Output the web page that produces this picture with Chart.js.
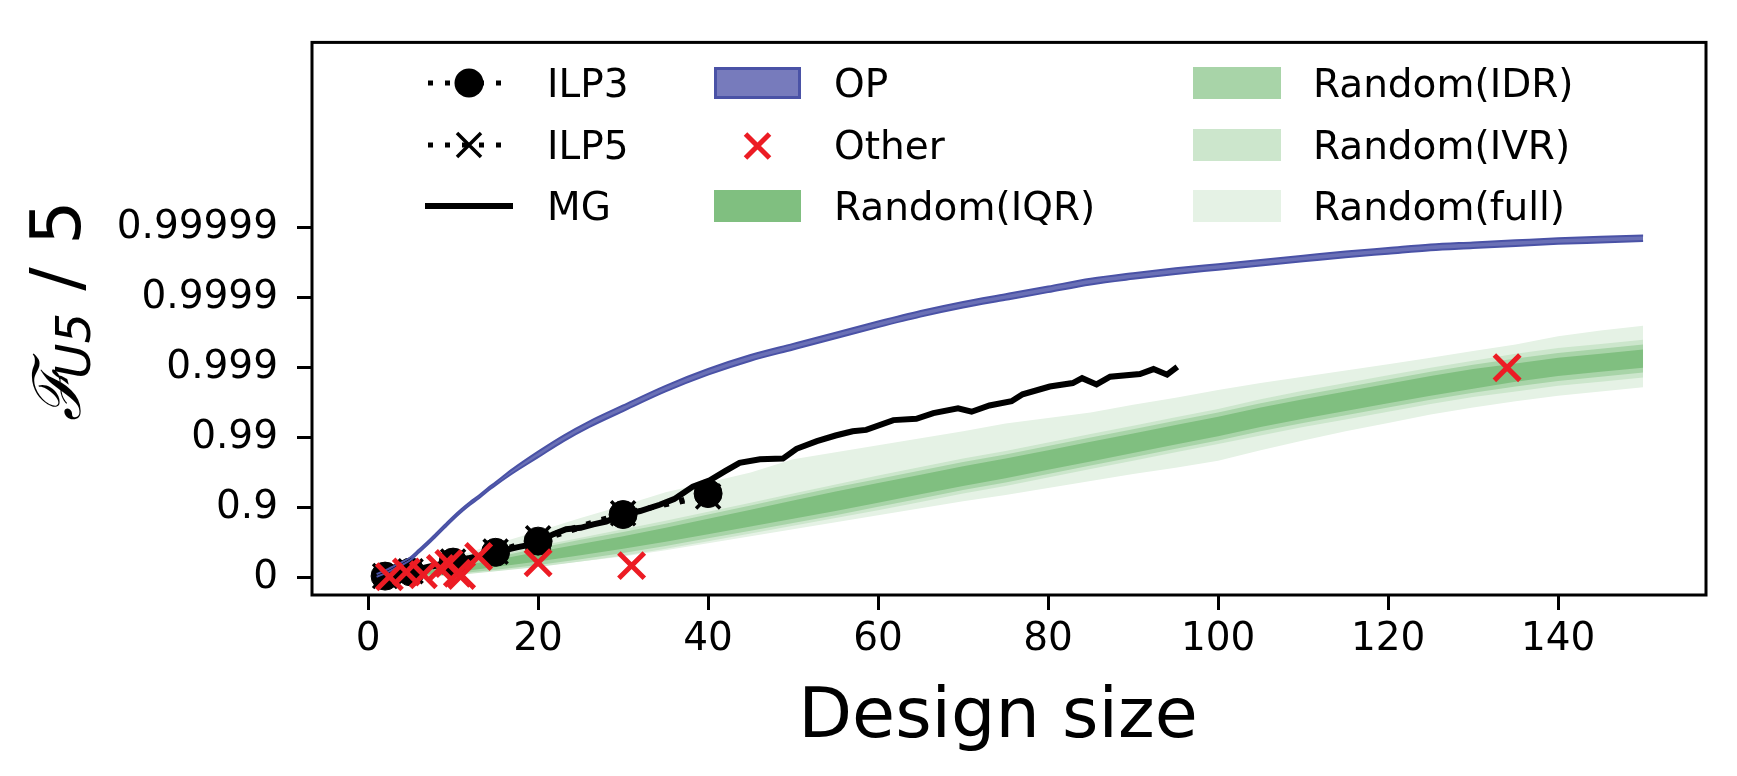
<!DOCTYPE html>
<html>
<head>
<meta charset="utf-8">
<script src="https://cdn.jsdelivr.net/npm/chart.js@4.4.1/dist/chart.umd.min.js"></script>
<style>
  html, body { margin: 0; padding: 0; background: #fff; }
</style>
</head>
<body>
<canvas id="chart" width="1737" height="776"></canvas>
<script>
// y values are in "nines": 0 -> 0, 1 -> 0.9, 2 -> 0.99, ...
const xTicks = [0, 20, 40, 60, 80, 100, 120, 140];
const yTicks = [0, 1, 2, 3, 4, 5];
const yTickLabels = ["0", "0.9", "0.99", "0.999", "0.9999", "0.99999"];

const ilpX = [2, 5, 10, 15, 20, 30, 40];
const ilp3Y = [0.02, 0.08, 0.22, 0.36, 0.52, 0.90, 1.20];
const ilp5Y = [0.02, 0.09, 0.23, 0.37, 0.56, 0.92, 1.16];

const mgX = [1, 3, 5, 7, 9, 11, 13, 15, 17.5, 19.5, 21.8, 23.3, 25, 26.5, 28, 30, 32, 34.3, 36, 37, 38.2,
  40.2, 42, 43.7, 46.1, 48.8, 50.4, 52.8, 55, 57, 58.6, 61.8, 64.5, 66.5, 69.4, 71, 73.1, 75.7,
  77, 80.2, 82.9, 84, 85.7, 87.3, 90.8, 92.4, 94, 95.2];
const mgY = [0.0, 0.05, 0.09, 0.15, 0.2, 0.25, 0.31, 0.36, 0.43, 0.48, 0.62, 0.69, 0.71, 0.76, 0.8, 0.9, 0.95, 1.04, 1.12, 1.2, 1.3,
  1.39, 1.52, 1.64, 1.69, 1.70, 1.84, 1.95, 2.03, 2.09, 2.11, 2.25, 2.27, 2.35, 2.42, 2.37, 2.46, 2.52,
  2.62, 2.73, 2.78, 2.85, 2.76, 2.87, 2.91, 2.98, 2.90, 3.01];

const opX = [1, 2, 3, 4, 5, 6, 7, 8, 9, 10, 11, 12, 13, 14, 15, 17, 20, 23, 26, 30, 35, 40, 45, 50, 55, 60,
  65, 70, 75, 80, 85, 90, 95, 100, 105, 110, 115, 120, 125, 130, 135, 140, 145, 150];
const opHi = [0.05, 0.10, 0.16, 0.22, 0.29, 0.40, 0.51, 0.63, 0.75, 0.87, 0.98, 1.08, 1.17, 1.27, 1.36, 1.55, 1.80,
  2.03, 2.23, 2.46, 2.74, 2.98, 3.18, 3.34, 3.50, 3.66, 3.81, 3.94, 4.05, 4.16, 4.27, 4.35, 4.42, 4.48,
  4.54, 4.60, 4.66, 4.71, 4.76, 4.79, 4.82, 4.85, 4.87, 4.89];
const opLo = [0.01, 0.06, 0.12, 0.18, 0.25, 0.36, 0.47, 0.59, 0.71, 0.83, 0.94, 1.04, 1.13, 1.23, 1.32, 1.49, 1.72,
  1.95, 2.15, 2.38, 2.66, 2.90, 3.10, 3.26, 3.42, 3.58, 3.73, 3.86, 3.97, 4.08, 4.19, 4.27, 4.34, 4.40,
  4.46, 4.52, 4.58, 4.63, 4.68, 4.71, 4.74, 4.77, 4.79, 4.81];

const otherX = [2.5, 4.5, 6.5, 8.5, 9.5, 10.5, 11, 13, 20, 31, 134];
const otherY = [0.01, 0.08, 0.04, 0.13, 0.2, 0.06, 0.03, 0.3, 0.21, 0.17, 3.0];

const randX = [1, 5, 10, 15, 20, 25, 30, 35, 40, 45, 50, 55, 60, 65, 70, 75, 80, 85, 90, 95, 100,
  105, 110, 115, 120, 125, 130, 135, 140, 145, 150];
const iqrHi = [0.00, 0.06, 0.15, 0.25, 0.37, 0.48, 0.59, 0.71, 0.84, 0.97, 1.10, 1.23, 1.35, 1.47, 1.59, 1.70,
  1.82, 1.94, 2.06, 2.18, 2.30, 2.43, 2.55, 2.66, 2.77, 2.88, 2.98, 3.06, 3.14, 3.20, 3.26];
const iqrLo = [0.00, 0.02, 0.07, 0.15, 0.23, 0.32, 0.41, 0.51, 0.62, 0.73, 0.84, 0.95, 1.07, 1.19, 1.31, 1.42,
  1.54, 1.66, 1.78, 1.90, 2.02, 2.15, 2.27, 2.38, 2.49, 2.60, 2.70, 2.80, 2.88, 2.94, 3.00];
const idrHi = [0.00, 0.07, 0.17, 0.29, 0.42, 0.54, 0.65, 0.77, 0.90, 1.03, 1.16, 1.29, 1.41, 1.53, 1.65, 1.76,
  1.88, 2.00, 2.12, 2.24, 2.36, 2.49, 2.61, 2.72, 2.83, 2.94, 3.04, 3.13, 3.21, 3.27, 3.33];
const idrLo = [0.00, 0.01, 0.05, 0.11, 0.18, 0.26, 0.35, 0.45, 0.56, 0.67, 0.78, 0.89, 1.01, 1.13, 1.25, 1.36,
  1.48, 1.60, 1.72, 1.84, 1.96, 2.09, 2.21, 2.32, 2.43, 2.54, 2.64, 2.73, 2.81, 2.87, 2.93];
const ivrHi = [0.00, 0.08, 0.19, 0.31, 0.45, 0.57, 0.69, 0.81, 0.94, 1.07, 1.20, 1.33, 1.46, 1.58, 1.70, 1.81,
  1.93, 2.05, 2.17, 2.29, 2.41, 2.55, 2.67, 2.78, 2.89, 3.00, 3.10, 3.20, 3.28, 3.34, 3.40];
const ivrLo = [0.00, 0.00, 0.03, 0.09, 0.15, 0.23, 0.31, 0.41, 0.52, 0.63, 0.74, 0.85, 0.96, 1.08, 1.20, 1.31,
  1.43, 1.55, 1.67, 1.79, 1.91, 2.03, 2.15, 2.26, 2.37, 2.48, 2.58, 2.66, 2.74, 2.80, 2.86];
const fullHi = [0.00, 0.12, 0.29, 0.48, 0.66, 0.85, 1.03, 1.22, 1.36, 1.50, 1.69, 1.79, 1.89, 1.99, 2.09, 2.20,
  2.28, 2.36, 2.47, 2.57, 2.68, 2.78, 2.87, 2.96, 3.05, 3.14, 3.24, 3.33, 3.45, 3.53, 3.60];
const fullLo = [0.00, 0.00, 0.04, 0.10, 0.16, 0.23, 0.30, 0.39, 0.49, 0.59, 0.69, 0.79, 0.89, 0.99, 1.09, 1.18,
  1.28, 1.38, 1.48, 1.57, 1.67, 1.82, 1.96, 2.09, 2.21, 2.33, 2.43, 2.52, 2.60, 2.66, 2.72];

const FONT = "'DejaVu Sans', sans-serif";
const RED = "#ec1c24";
const OP_FILL = "#6a70b6";
const OP_EDGE = "#4a52a6";
const GREEN = { iqr: "#80bf80", idr: "#a8d4a8", ivr: "#cce6cc", full: "#e5f2e5" };

function pts(xs, ys) {
  return xs.map((x, i) => ({ x: x, y: ys[i] }));
}

function band(label, xs, hi, lo, color, order) {
  return [
    { label: label, data: pts(xs, hi), order: order, fill: "+1", backgroundColor: color,
      borderWidth: 0, pointRadius: 0 },
    { label: label + "_lo", data: pts(xs, lo), order: order, fill: false,
      borderWidth: 0, pointRadius: 0 },
  ];
}

const datasets = [
  { label: "Other", data: pts(otherX, otherY), order: 0, showLine: false,
    pointStyle: "crossRot", pointRadius: 18, pointBorderWidth: 5, pointBorderColor: RED, pointBackgroundColor: RED },
  { label: "OP", data: pts(opX, opHi), order: 1, fill: "+1", backgroundColor: OP_FILL,
    borderColor: OP_EDGE, borderWidth: 2, pointRadius: 0, cubicInterpolationMode: "monotone" },
  { label: "OP_lo", data: pts(opX, opLo), order: 1, fill: false,
    borderColor: OP_EDGE, borderWidth: 2, pointRadius: 0, cubicInterpolationMode: "monotone" },
  { label: "ILP3", data: pts(ilpX, ilp3Y), order: 2, borderColor: "#000", borderWidth: 5, borderDash: [5, 11],
    pointStyle: "circle", pointRadius: 14, pointBackgroundColor: "#000", pointBorderColor: "#000", pointBorderWidth: 1 },
  { label: "ILP5", data: pts(ilpX, ilp5Y), order: 3, borderColor: "#000", borderWidth: 5, borderDash: [5, 11],
    pointStyle: "crossRot", pointRadius: 17, pointBorderColor: "#000", pointBorderWidth: 3.5 },
  { label: "MG", data: pts(mgX, mgY), order: 4, borderColor: "#000", borderWidth: 6, pointRadius: 0 },
  ...band("Random(IQR)", randX, iqrHi, iqrLo, GREEN.iqr, 5),
  ...band("Random(IDR)", randX, idrHi, idrLo, GREEN.idr, 6),
  ...band("Random(IVR)", randX, ivrHi, ivrLo, GREEN.ivr, 7),
  ...band("Random(full)", randX, fullHi, fullLo, GREEN.full, 8),
];

// legend laid out as in the figure: three columns, filled column by column
const legendRows = [83, 145, 206];
const legendCols = [
  { x1: 425, x2: 513, text: 547 },
  { x1: 714, x2: 801, text: 834 },
  { x1: 1193, x2: 1281, text: 1313 },
];
const legendItems = [
  { label: "ILP3", kind: "ilp3" }, { label: "ILP5", kind: "ilp5" }, { label: "MG", kind: "line" },
  { label: "OP", kind: "patch", fill: "#777bbc", edge: OP_EDGE },
  { label: "Other", kind: "cross" },
  { label: "Random(IQR)", kind: "patch", fill: GREEN.iqr },
  { label: "Random(IDR)", kind: "patch", fill: GREEN.idr },
  { label: "Random(IVR)", kind: "patch", fill: GREEN.ivr },
  { label: "Random(full)", kind: "patch", fill: GREEN.full },
];

function drawX(ctx, x, y, r, w, color) {
  ctx.save();
  ctx.strokeStyle = color;
  ctx.lineWidth = w;
  ctx.beginPath();
  ctx.moveTo(x - r, y - r); ctx.lineTo(x + r, y + r);
  ctx.moveTo(x + r, y - r); ctx.lineTo(x - r, y + r);
  ctx.stroke();
  ctx.restore();
}

const decorPlugin = {
  id: "decor",
  afterDraw(chart) {
    const ctx = chart.ctx;
    const a = chart.chartArea;

    // axes frame
    ctx.save();
    ctx.strokeStyle = "#000";
    ctx.lineWidth = 3;
    ctx.strokeRect(a.left, a.top, a.right - a.left, a.bottom - a.top);
    ctx.restore();

    // legend
    ctx.save();
    legendItems.forEach((item, i) => {
      const col = legendCols[Math.floor(i / 3)];
      const y = legendRows[i % 3];
      const cx = (col.x1 + col.x2) / 2;
      if (item.kind === "ilp3" || item.kind === "ilp5") {
        ctx.save();
        ctx.strokeStyle = "#000";
        ctx.lineWidth = 5;
        ctx.setLineDash([5, 12]);
        ctx.beginPath();
        ctx.moveTo(col.x1 + 3, y);
        ctx.lineTo(col.x2 - 2, y);
        ctx.stroke();
        ctx.restore();
        if (item.kind === "ilp3") {
          ctx.fillStyle = "#000";
          ctx.beginPath();
          ctx.arc(cx, y, 14.5, 0, Math.PI * 2);
          ctx.fill();
        } else {
          drawX(ctx, cx, y, 12, 3.5, "#000");
        }
      } else if (item.kind === "line") {
        ctx.fillStyle = "#000";
        ctx.fillRect(col.x1, y - 3, col.x2 - col.x1, 6);
      } else if (item.kind === "cross") {
        drawX(ctx, cx, y + 1, 12, 5, RED);
      } else {
        ctx.fillStyle = item.fill;
        ctx.fillRect(col.x1, y - 16, col.x2 - col.x1, 32);
        if (item.edge) {
          ctx.strokeStyle = item.edge;
          ctx.lineWidth = 3;
          ctx.strokeRect(col.x1 + 1.5, y - 14.5, col.x2 - col.x1 - 3, 29);
        }
      }
      ctx.fillStyle = "#000";
      ctx.font = "39px " + FONT;
      ctx.textAlign = "left";
      ctx.textBaseline = "alphabetic";
      ctx.fillText(item.label, col.text, y + 14);
    });
    ctx.restore();

    // x axis title
    ctx.save();
    ctx.fillStyle = "#000";
    ctx.font = "70px " + FONT;
    ctx.textAlign = "center";
    ctx.textBaseline = "alphabetic";
    ctx.fillText("Design size", 998, 737);
    ctx.restore();

    // y axis title: F_{U5} / 5, rotated
    ctx.save();
    ctx.translate(80, 313);
    ctx.rotate(-Math.PI / 2);
    ctx.fillStyle = "#000";
    ctx.textBaseline = "alphabetic";
    ctx.textAlign = "left";
    ctx.font = "italic 66px 'DejaVu Serif', serif";
    ctx.fillText("\u2131", -108, 0);
    ctx.font = "italic 48px " + FONT;
    ctx.textAlign = "right";
    ctx.fillText("U5", 0, 10);
    ctx.font = "70px " + FONT;
    ctx.textAlign = "left";
    ctx.fillText(" / 5", 0, 0);
    ctx.restore();
  },
};

new Chart(document.getElementById("chart"), {
  type: "line",
  data: { datasets: datasets },
  plugins: [decorPlugin],
  options: {
    responsive: false,
    animation: false,
    devicePixelRatio: 1,
    layout: { padding: { top: 31, right: 31, left: 0, bottom: 0 } },
    elements: { line: { tension: 0 } },
    plugins: {
      legend: { display: false },
      tooltip: { enabled: false },
      filler: { drawTime: "beforeDatasetsDraw" },
    },
    scales: {
      x: {
        type: "linear",
        min: -6.6,
        max: 157.4,
        afterBuildTicks: (s) => { s.ticks = xTicks.map((v) => ({ value: v })); },
        afterFit: (s) => { s.height = 181; },
        grid: { display: true, drawOnChartArea: false, tickLength: 15, tickWidth: 3, tickColor: "#000" },
        border: { display: false },
        ticks: {
          color: "#000",
          font: { family: FONT, size: 39 },
          padding: 6,
          maxRotation: 0,
          autoSkip: false,
          callback: (v) => String(v),
        },
      },
      y: {
        type: "linear",
        min: -0.25,
        max: 7.65,
        afterBuildTicks: (s) => { s.ticks = yTicks.map((v) => ({ value: v })); },
        afterFit: (s) => { s.width = 312; },
        grid: { display: true, drawOnChartArea: false, tickLength: 15, tickWidth: 3, tickColor: "#000" },
        border: { display: false },
        ticks: {
          color: "#000",
          font: { family: FONT, size: 39 },
          padding: 19,
          autoSkip: false,
          callback: (v) => yTickLabels[yTicks.indexOf(v)],
        },
      },
    },
  },
});
</script>
</body>
</html>
